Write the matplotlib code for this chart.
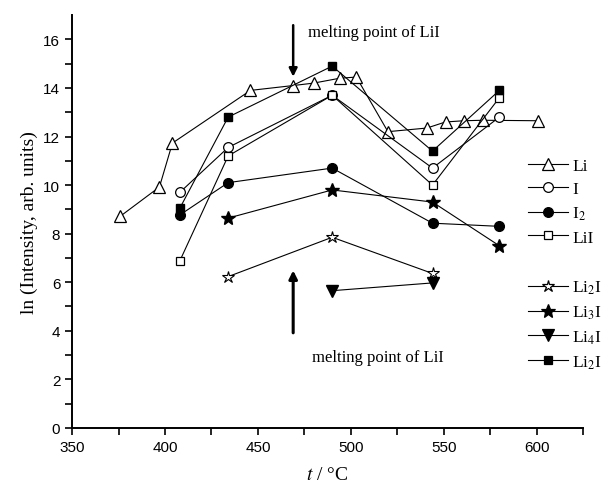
import numpy as np
import matplotlib
matplotlib.use('Agg')
import matplotlib.pyplot as plt
from matplotlib.lines import Line2D

# data (t in degC, ln intensity)
li_t = [376, 397, 404, 446, 469, 480, 494, 503, 520, 541, 551, 561, 571, 601]
li_y = [8.72, 9.92, 11.73, 13.9, 14.1, 14.2, 14.4, 14.45, 12.2, 12.35, 12.6, 12.65, 12.67, 12.65]

t5 = [408, 434, 490, 544, 580]
i_y = [9.7, 11.55, 13.7, 10.7, 12.8]
i2_y = [8.77, 10.1, 10.7, 8.43, 8.3]
lii_y = [6.88, 11.2, 13.7, 10.0, 13.6]
li2i2_y = [9.05, 12.8, 14.9, 11.4, 13.9]

t3 = [434, 490, 544]
li2i_y = [6.23, 7.85, 6.36]

t4 = [434, 490, 544, 580]
li3i_y = [8.64, 9.8, 9.3, 7.5]

t2 = [490, 544]
li4i_y = [5.65, 5.97]

labels_a = ['Li', 'I', 'I$_2$', 'LiI']
labels_b = ['Li$_2$I', 'Li$_3$I', 'Li$_4$I', 'Li$_2$I']

melt_t = 469

plt.rcParams['font.family'] = 'Liberation Serif'
plt.rcParams['mathtext.fontset'] = 'stix'

fig = plt.figure(figsize=(6.06, 4.89), dpi=100)
ax = fig.add_axes([0.119, 0.123, 0.843, 0.844])

lw = 0.8
ax.plot(li_t, li_y, '-^', color='k', lw=lw, ms=9, mfc='white', mew=0.9)
ax.plot(t5, i_y, '-o', color='k', lw=lw, ms=7, mfc='white', mew=0.9)
ax.plot(t5, i2_y, '-o', color='k', lw=lw, ms=7, mfc='black')
ax.plot(t5, lii_y, '-s', color='k', lw=lw, ms=6, mfc='white', mew=0.9)
ax.plot(t5, li2i2_y, '-s', color='k', lw=lw, ms=6, mfc='black')
ax.plot(t3, li2i_y, '-*', color='k', lw=lw, ms=9, mfc='white', mew=0.8)
ax.plot(t4, li3i_y, '-*', color='k', lw=lw, ms=10, mfc='black')
ax.plot(t2, li4i_y, '-v', color='k', lw=lw, ms=8, mfc='black')

ax.set_xlim(350, 625)
ax.set_ylim(0, 17)
ax.set_xticks([350, 400, 450, 500, 550, 600])
ax.set_xticks(np.arange(375, 626, 50), minor=True)
ax.set_yticks(np.arange(0, 17, 2))
ax.set_yticks(np.arange(1, 17, 2), minor=True)
for s in ['top', 'right']:
    ax.spines[s].set_visible(False)
for s in ['left', 'bottom']:
    ax.spines[s].set_linewidth(1.4)
ax.tick_params(which='both', direction='out', length=5, width=1.2)
for lab in ax.get_xticklabels() + ax.get_yticklabels():
    lab.set_family('Liberation Sans')
    lab.set_fontsize(11)

ax.set_ylabel('ln (Intensity, arb. units)', fontsize=14, labelpad=4)
ax.set_xlabel('$t$ / \u00b0C', fontsize=14, labelpad=9)

# melting point arrows
ax.annotate('', xy=(melt_t, 14.35), xytext=(melt_t, 16.7),
            arrowprops=dict(arrowstyle='-|>', lw=1.8, color='k', mutation_scale=12))
ax.annotate('', xy=(melt_t, 6.6), xytext=(melt_t, 3.8),
            arrowprops=dict(arrowstyle='-|>', lw=2.2, color='k', mutation_scale=12))
ax.text(477, 16.3, 'melting point of LiI', fontsize=12, va='center', ha='left')
ax.text(479, 2.9, 'melting point of LiI', fontsize=12, va='center', ha='left')

# legend in two groups at the right edge
def handle(m, filled, ms):
    return Line2D([], [], color='k', lw=lw, marker=m, ms=ms,
                  mfc='black' if filled else 'white', mew=0.9)

h_a = [handle('^', False, 9), handle('o', False, 7), handle('o', True, 7), handle('s', False, 6)]
h_b = [handle('*', False, 9), handle('*', True, 10), handle('v', True, 8), handle('s', True, 6)]
leg_kw = dict(loc='upper left', frameon=False, fontsize=12.5, handlelength=2.3,
              labelspacing=0.42, handletextpad=0.25, borderpad=0)
leg1 = fig.legend(h_a, labels_a, bbox_to_anchor=(0.857, 0.693), **leg_kw)
fig.legend(h_b, labels_b, bbox_to_anchor=(0.857, 0.445), **leg_kw)

fig.savefig('out.png', dpi=100)
